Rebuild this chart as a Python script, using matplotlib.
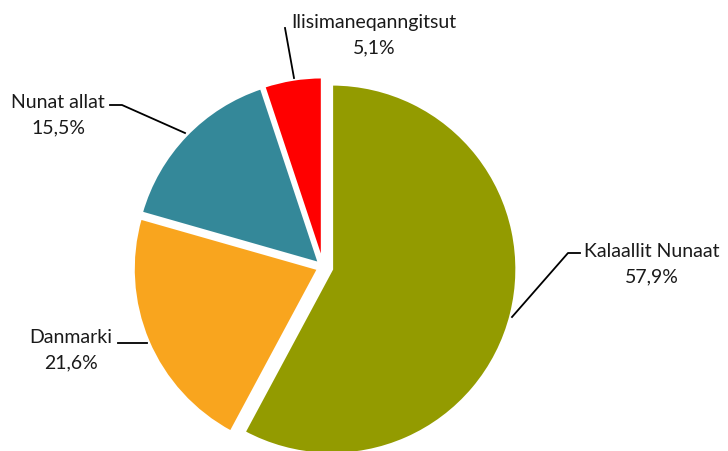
import matplotlib
matplotlib.use("Agg")
import matplotlib.pyplot as plt

plt.rcParams["font.family"] = ["Lato", "DejaVu Sans"]

# 数据
labels = ["Kalaallit Nunaat", "Danmarki", "Nunat allat", "Ilisimaneqanngitsut"]
shares = [57.9, 21.6, 15.5, 5.1]
colors = ["#939B00", "#F9A51E", "#348899", "#FF0000"]
explode = [9, 5, 5, 5]  # 像素

fig = plt.figure(figsize=(7.28, 4.51), dpi=100, facecolor="white")
ax = fig.add_axes([0, 0, 1, 1])

H = 451
cx, cy, r = 323, H - 267, 185

ax.pie(shares, colors=colors, explode=explode, startangle=90, counterclock=False,
       center=(cx, cy), radius=r, frame=True,
       wedgeprops=dict(edgecolor="white", linewidth=2))
ax.set_xlim(0, 728)
ax.set_ylim(0, 451)
ax.set_aspect("equal")
ax.axis("off")

def pct(v):
    return f"{v:.1f}%".replace(".", ",")

# 标签位置（像素坐标：x 中心，第一行基线 y，从顶部算）
label_pos = [(652, 257), (71, 343), (58, 108), (374, 28)]
leaders = [
    [(580, 253), (568, 253), (512, 317)],
    [(118, 343), (147, 343)],
    [(110, 105), (122, 105), (185, 133)],
    [(285, 28), (294, 78)],
]

for lab, v, (x, y), pts in zip(labels, shares, label_pos, leaders):
    ax.text(x, H - y, lab, ha="center", va="baseline",
            fontsize=14, color="#1a1a1a")
    ax.text(x, H - y - 25, pct(v), ha="center", va="baseline",
            fontsize=14, color="#1a1a1a")
    ax.plot([p[0] for p in pts], [H - p[1] for p in pts], color="black", lw=1.3)

fig.savefig("out.png", dpi=100, facecolor="white")
